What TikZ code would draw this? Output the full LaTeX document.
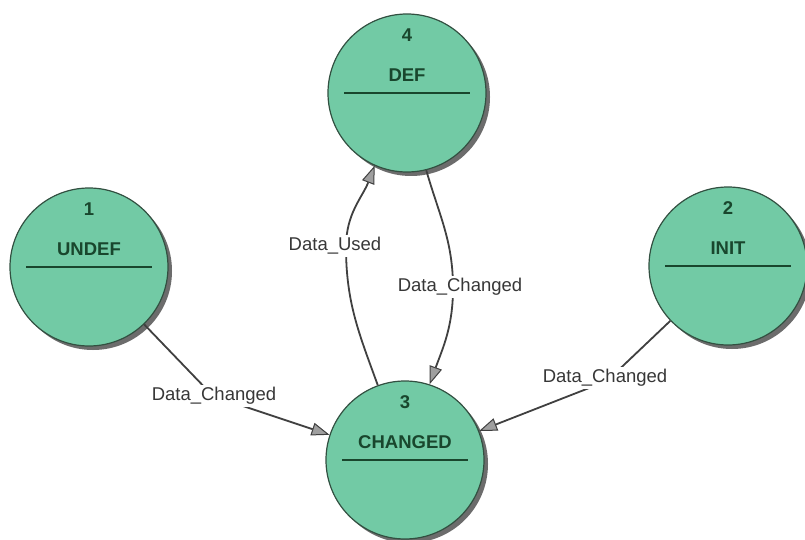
\documentclass[tikz,border=0pt]{standalone}
\usepackage{fontspec}
\setmainfont{Liberation Sans}
\usetikzlibrary{arrows.meta,shadows,calc}
\definecolor{statefill}{RGB}{114,202,165}
\definecolor{stateline}{RGB}{50,80,65}
\definecolor{statetext}{RGB}{25,70,45}
\definecolor{edgecol}{RGB}{64,64,64}
\definecolor{labcol}{RGB}{55,55,55}
\tikzset{
  statenode/.style={circle, minimum size=158pt, inner sep=0pt, fill=statefill,
    draw=stateline, line width=1.2pt,
    drop shadow={shadow xshift=4pt, shadow yshift=-4pt, fill=gray!85!black, opacity=1}},
  stxt/.style={font=\fontsize{18.5}{20}\selectfont\bfseries, text=statetext, inner sep=0pt},
  divider/.style={draw=statetext, line width=2pt},
  elab/.style={font=\fontsize{18.5}{20}\selectfont, text=labcol, fill=white, inner sep=2pt},
  edge/.style={draw=edgecol, line width=1.8pt},
  arr/.style={-{Triangle[length=18pt,width=13pt,fill=gray!75,line width=1pt]}},
}
\begin{document}
\begin{tikzpicture}[x=1pt,y=-1pt]
\useasboundingbox (0,0) rectangle (805,540);
\fill[white] (0,0) rectangle (805,540);

% states
\node[statenode] (def) at (407,93) {};
\node[statenode] (undef) at (89,267) {};
\node[statenode] (init) at (728,266) {};
\node[statenode] (changed) at (405,460) {};

% texts inside states
\foreach \s/\n/\t in {def/4/DEF, undef/1/UNDEF, init/2/INIT, changed/3/CHANGED}{
  \node[stxt] (\s num) at ([yshift=58pt]\s.center) {\n};
  \node[stxt] (\s name) at ([yshift=18pt]\s.center) {\t};
  \draw[divider] ([xshift=-63pt]\s.center) -- ([xshift=63pt]\s.center);
}

% UNDEF -> CHANGED
\coordinate (b1) at (213,396);
\draw[edge,arr] (undef) -- (b1) -- (changed);
\node[elab] (l1) at (214,396) {Data\_Changed};

% INIT -> CHANGED
\coordinate (b2) at (607,381);
\draw[edge,arr] (init) -- (b2) -- (changed);
\node[elab] (l2) at (605,378) {Data\_Changed};

% DEF -> CHANGED
\coordinate (b3) at (453,288);
\draw[edge,arr] (def.-76) to[out=-74,in=90] (b3) to[out=-90,in=70] (changed.72);
\node[elab] (l3) at (460,287) {Data\_Changed};

% CHANGED -> DEF
\coordinate (b4) at (346,247);
\draw[edge,arr] (changed.110) to[out=110,in=-90] (b4) to[out=90,in=-111] (def.-114);
\node[elab] (l4) at (335,246) {Data\_Used};
\end{tikzpicture}
\end{document}
